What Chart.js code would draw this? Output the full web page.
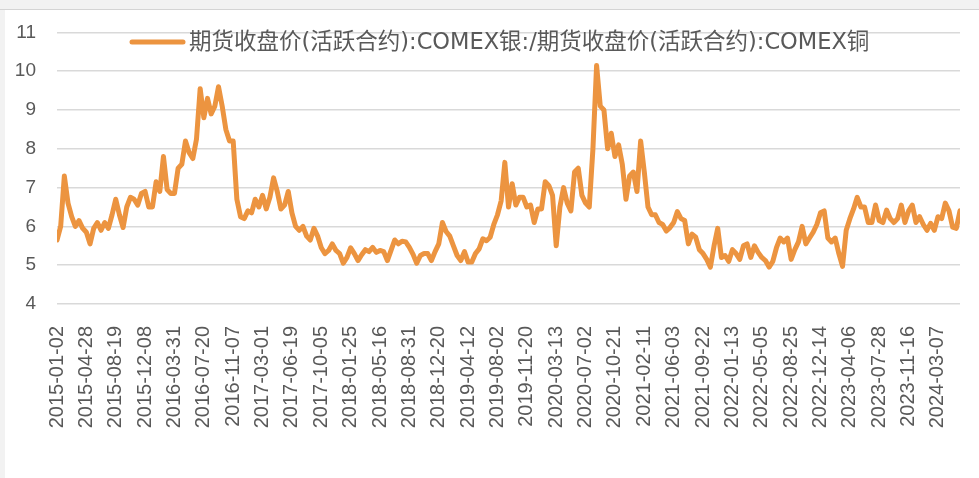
<!DOCTYPE html>
<html>
<head>
<meta charset="utf-8">
<script src="https://cdn.jsdelivr.net/npm/chart.js@4.4.1/dist/chart.umd.min.js"></script>
<style>
  html, body { margin: 0; padding: 0; }
  body { width: 979px; height: 478px; background: #f2f2f2; position: relative; overflow: hidden; }
  .topline { position: absolute; left: 0; top: 9px; width: 979px; height: 1px; background: #d4d4d4; }
  .panel { position: absolute; left: 5px; top: 10px; right: 0; bottom: 0; background: #fff; }
  canvas { position: absolute; left: 0; top: 0; }
</style>
</head>
<body>
<div class="topline"></div>
<div class="panel"></div>
<canvas id="lineChart" width="979" height="478"></canvas>
<script>
const seriesName = '期货收盘价(活跃合约):COMEX银:/期货收盘价(活跃合约):COMEX铜';

// x-axis tick labels, one every 80 trading days
const tickLabels = [
  '2015-01-02', '2015-04-28', '2015-08-19', '2015-12-08', '2016-03-31',
  '2016-07-20', '2016-11-07', '2017-03-01', '2017-06-19', '2017-10-05',
  '2018-01-25', '2018-05-16', '2018-08-31', '2018-12-20', '2019-04-12',
  '2019-08-02', '2019-11-20', '2020-03-13', '2020-07-02', '2020-10-21',
  '2021-02-11', '2021-06-03', '2021-09-22', '2022-01-13', '2022-05-05',
  '2022-08-25', '2022-12-14', '2023-04-06', '2023-07-28', '2023-11-16',
  '2024-03-07'
];
const tickEvery = 80;   // trading days between labels
const stepDays = 10;    // trading days between sampled values

// silver / copper ratio, sampled every 10 trading days from 2015-01-02
const ratio = [
  5.65, 6.0, 7.3, 6.6, 6.25, 6.0, 6.15, 5.95, 5.85, 5.55,
  5.95, 6.1, 5.9, 6.1, 5.95, 6.3, 6.7, 6.3, 5.97, 6.5,
  6.75, 6.7, 6.55, 6.85, 6.9, 6.5, 6.5, 7.15, 6.9, 7.8,
  6.95, 6.85, 6.85, 7.5, 7.6, 8.2, 7.9, 7.75, 8.25, 9.55,
  8.8, 9.3, 8.9, 9.1, 9.6, 9.1, 8.5, 8.2, 8.2, 6.7,
  6.25, 6.2, 6.4, 6.35, 6.7, 6.5, 6.8, 6.45, 6.75, 7.25,
  6.9, 6.45, 6.55, 6.9, 6.35, 6.0, 5.9, 6.0, 5.75, 5.65,
  5.95, 5.75, 5.45, 5.3, 5.38, 5.55, 5.38, 5.3, 5.05, 5.2,
  5.45, 5.3, 5.12, 5.27, 5.4, 5.35, 5.46, 5.33, 5.38, 5.35,
  5.12, 5.38, 5.65, 5.55, 5.62, 5.6, 5.46, 5.28, 5.05, 5.25,
  5.3, 5.3, 5.12, 5.35, 5.55, 6.1, 5.87, 5.75, 5.5, 5.25,
  5.12, 5.35, 5.08, 5.08, 5.3, 5.42, 5.68, 5.63, 5.72, 6.05,
  6.3, 6.66, 7.65, 6.5, 7.1, 6.55, 6.75, 6.75, 6.5, 6.55,
  6.1, 6.45, 6.45, 7.15, 7.05, 6.8, 5.5, 6.5, 7.0, 6.6,
  6.4, 7.4, 7.5, 6.8, 6.6, 6.5, 8.0, 10.15, 9.1, 9.0,
  8.0, 8.4, 7.8, 8.1, 7.6, 6.7, 7.3, 7.4, 6.9, 8.2,
  7.4, 6.5, 6.3, 6.3, 6.1, 6.05, 5.88, 5.97, 6.1, 6.38,
  6.2, 6.15, 5.55, 5.8, 5.72, 5.4, 5.3, 5.15, 4.95, 5.5,
  5.95, 5.2, 5.25, 5.1, 5.4, 5.3, 5.15, 5.5, 5.55, 5.2,
  5.5, 5.33, 5.2, 5.12, 4.95, 5.1, 5.45, 5.7, 5.6, 5.7,
  5.15, 5.4, 5.6, 6.0, 5.55, 5.7, 5.85, 6.05, 6.35, 6.4,
  5.7, 5.6, 5.7, 5.3, 4.97, 5.9, 6.2, 6.45, 6.75, 6.5,
  6.5, 6.1, 6.1, 6.55, 6.15, 6.1, 6.42, 6.2, 6.1, 6.2,
  6.55, 6.1, 6.4, 6.55, 6.1, 6.25, 6.05, 5.9, 6.08, 5.9,
  6.25, 6.2, 6.6, 6.4, 5.98, 5.95, 6.4
];

const yMin = 4, yMax = 11;
const lineColor = '#ec9440';
const textColor = '#595959';

const legendPlugin = {
  id: 'excelLegend',
  afterDraw(chart) {
    const ctx = chart.ctx;
    const y = 42;
    ctx.save();
    ctx.strokeStyle = lineColor;
    ctx.lineWidth = 5;
    ctx.lineCap = 'round';
    ctx.beginPath();
    ctx.moveTo(132, y);
    ctx.lineTo(183, y);
    ctx.stroke();
    ctx.fillStyle = textColor;
    ctx.font = '22.5px "DejaVu Sans", "Noto Sans CJK SC", sans-serif';
    ctx.textBaseline = 'middle';
    ctx.textAlign = 'left';
    ctx.fillText(seriesName, 189, y + 1);
    ctx.restore();
  }
};

const line_chart_data = {
  datasets: [{
    label: seriesName,
    data: ratio.map((v, i) => ({ x: i * stepDays, y: v })),
    borderColor: lineColor,
    backgroundColor: lineColor,
    borderWidth: 5,
    borderJoinStyle: 'round',
    borderCapStyle: 'round',
    pointRadius: 0,
    tension: 0
  }]
};

const line_chart_config = {
  type: 'line',
  data: line_chart_data,
  options: {
    responsive: false,
    animation: false,
    layout: { padding: { top: 29, right: 19, left: 0, bottom: 0 } },
    plugins: { legend: { display: false }, tooltip: { enabled: false } },
    scales: {
      x: {
        type: 'linear',
        min: 0,
        max: (ratio.length - 1) * stepDays,
        grid: { display: false },
        border: { display: false },
        afterBuildTicks: (scale) => {
          scale.ticks = tickLabels.map((d, i) => ({ value: i * tickEvery }));
        },
        afterFit: (scale) => { scale.height = 174; },
        ticks: {
          autoSkip: false,
          minRotation: 90,
          maxRotation: 90,
          padding: 14,
          color: textColor,
          font: { family: '"Liberation Sans", Arial, sans-serif', size: 20 },
          callback: (value, index) => tickLabels[index]
        }
      },
      y: {
        min: yMin,
        max: yMax,
        grid: { color: '#d9d9d9', lineWidth: 1.5, drawTicks: false },
        border: { display: false },
        afterFit: (scale) => { scale.width = 57; },
        ticks: {
          stepSize: 1,
          padding: 21,
          color: textColor,
          font: { family: '"Liberation Sans", Arial, sans-serif', size: 19 }
        }
      }
    }
  },
  plugins: [legendPlugin]
};

const lineChart = new Chart(
  document.getElementById('lineChart'),
  line_chart_config
);
</script>
</body>
</html>
